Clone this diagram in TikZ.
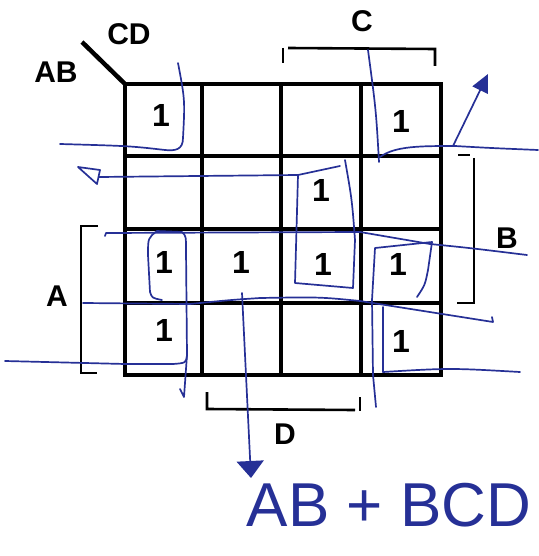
\documentclass[tikz,border=0pt]{standalone}
\usepackage{fontspec}
\setmainfont{Liberation Sans}
\usepackage{xcolor}
\usepackage{tikz}
\usetikzlibrary{arrows.meta, positioning, calc}

\definecolor{inkblue}{RGB}{38,48,150}

\begin{document}
\begin{tikzpicture}[x=1pt,y=-1pt,
  gridline/.style={line width=3.6pt,black,line cap=rect},
  bracket/.style={line width=2.6pt,black},
  ink/.style={draw=inkblue,line width=1.7pt,line cap=round,line join=round},
  lbl/.style={font=\fontsize{30}{34}\selectfont\bfseries},
  one/.style={font=\fontsize{32}{36}\selectfont\bfseries}]
  \useasboundingbox (0,0) rectangle (538,556);

  % Map corner
  \coordinate (NW) at (125,84);
  \coordinate (slash) at (82,42);

  % Grid
  \foreach \x in {125,202,281,361,441}
    \draw[gridline] (\x,84) -- (\x,375);
  \foreach \y in {84,156,229,303,375}
    \draw[gridline] (125,\y) -- (441,\y);

  % Corner slash and variable names
  \draw[line width=4.5pt] (NW) -- (slash);
  \node[lbl] (ab) at (56,72) {AB};
  \node[lbl] (cd) at (129,34) {CD};

  % Ones
  \node[one] (c11) at (161,115) {1};
  \node[one] (c14) at (401,121) {1};
  \node[one] (c23) at (321,190) {1};
  \node[one] (c31) at (164,262) {1};
  \node[one] (c32) at (241,262) {1};
  \node[one] (c33) at (323,264) {1};
  \node[one] (c34) at (398,264) {1};
  \node[one] (c41) at (164,330) {1};
  \node[one] (c44) at (401,341) {1};

  % Bracket C
  \draw[bracket] (283,48) -- (283,63);
  \draw[bracket] (288,48) -- (435,49) -- (435,66);
  \node[lbl] (labC) at (362,21) {C};

  % Bracket B
  \draw[bracket] (458,155) -- (470,155);
  \draw[bracket] (474,158) -- (474,303) -- (457,303);
  \node[lbl] (labB) at (507,238) {B};

  % Bracket A
  \draw[bracket] (98,226) -- (81,226) -- (81,373) -- (97,373);
  \node[lbl] (labA) at (57,296) {A};

  % Bracket D
  \draw[bracket] (207,392) -- (207,409) -- (355,410);
  \draw[bracket] (360,397) -- (360,411);
  \node[lbl] (labD) at (285,434) {D};

  % Pen: top-left group
  \draw[ink] (178,63) .. controls (185,100) .. (183,138)
    .. controls (183,150) and (175,151) .. (165,150)
    .. controls (130,146) .. (60,144);

  % Pen: top-right group and arrow
  \draw[ink] (368,50) .. controls (376,110) .. (379,162);
  \draw[ink] (380,157) .. controls (395,146) and (420,146) .. (455,146)
    .. controls (490,148) .. (538,150);
  \draw[ink,-{Triangle[length=18pt,width=17pt]}] (453,146) -- (488,74);

  % Pen: middle column loop and left arrow
  \draw[ink] (345,160) .. controls (352,200) .. (355,240)
    -- (353,288) -- (295,283) -- (298,175) -- (340,166);
  \draw[ink] (298,175) -- (99,177);
  \draw[ink] (78,167) -- (100,170) -- (97,184) -- cycle;

  % Pen: row lines
  \draw[ink] (105,236) -- (106,233) -- (360,232) -- (430,244)
    .. controls (470,248) .. (527,255);
  \draw[ink] (83,303) -- (190,304) .. controls (230,300) .. (260,298)
    .. controls (320,297) .. (360,301) -- (493,322) -- (492,317);
  \draw[ink] (383,372) .. controls (450,368) .. (520,372);

  % Pen: left column loops
  \draw[ink] (157,231) -- (182,232) .. controls (186,236) .. (186,250)
    -- (187,355) -- (184,397) -- (180,389);
  \draw[ink] (157,231) .. controls (148,238) .. (148,255)
    -- (150,292) .. controls (152,298) .. (162,300);
  \draw[ink] (187,355) .. controls (186,363) .. (173,364)
    -- (125,364) -- (5,361);

  % Pen: right column loop
  \draw[ink] (432,242) -- (375,248) -- (372,300) -- (373,375) -- (376,407);
  \draw[ink] (432,242) -- (428,270) .. controls (425,285) .. (417,297);
  \draw[ink] (383,307) -- (383,372);

  % Pen: down arrow and result
  \draw[ink,-{Triangle[length=17pt,width=27pt]}] (242,293) -- (251,478);
  \node[text=inkblue,font=\fontsize{62}{66}\selectfont] (result) at (389,505) {AB + BCD};
\end{tikzpicture}
\end{document}
